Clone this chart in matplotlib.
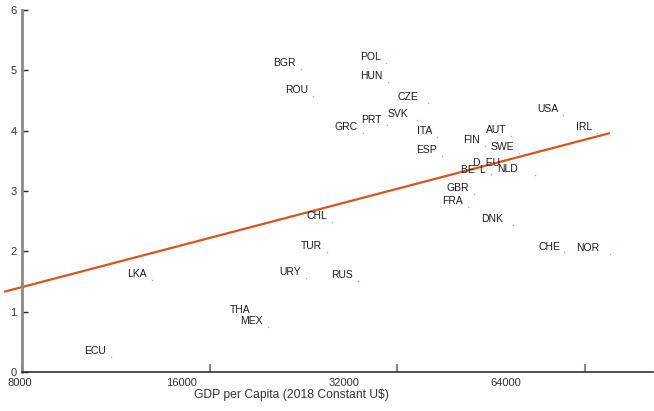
import numpy as np
import matplotlib
matplotlib.use("Agg")
import matplotlib.pyplot as plt

plt.rcParams["font.family"] = ["Liberation Sans", "DejaVu Sans"]

# Country codes, GDP per capita (2018 constant US$) and score
countries = ["BGR", "POL", "HUN", "ROU", "CZE", "SVK", "PRT", "GRC", "ITA", "ESP",
             "USA", "IRL", "AUT", "FIN", "SWE", "GBR", "FRA", "DNK", "CHE", "NOR",
             "LKA", "ECU", "CHL", "TUR", "URY", "RUS", "MEX", "THA",
             "DEU", "BEL", "NLD"]
gdp = [22440, 30700, 30950, 23450, 35880, 34450, 30840, 28220, 37100, 37800,
       59100, 67000, 48800, 44300, 50200, 42540, 41600, 49100, 59300, 70300,
       12940, 11120, 25170, 24700, 22860, 27700, 19860, 18930,
       47700, 45300, 53300]
score = [5.02, 5.12, 4.81, 4.57, 4.46, 4.18, 4.09, 3.96, 3.90, 3.58,
         4.26, 3.96, 3.91, 3.75, 3.63, 2.95, 2.73, 2.44, 1.99, 1.96,
         1.52, 0.25, 2.49, 1.99, 1.56, 1.51, 0.75, 0.93,
         3.36, 3.28, 3.27]

# Label text as printed (the crowded centre labels are split)
label_text = {"DEU": "D\u2002EU", "BEL": "BE\u2002L"}

# Fitted trend (log GDP) end points
fit_gdp = [7490, 70300]
fit_score = [1.33, 3.96]

x_ticks = [8000, 16000, 32000, 64000]
x_tick_labels = ["8000", "16000", "32000", "64000"]
y_ticks = [0, 1, 2, 3, 4, 5, 6]

# label nudges (pixels) for crowded spots
nudge = {"CZE": (-5, 0), "SVK": (-4, 0), "DNK": (-5, 0), "NOR": (-6, 0),
         "PRT": (0, -1), "CHE": (2, -1), "BEL": (0, -2), "NLD": (-12, 0)}

W, H = 654, 411
fig = plt.figure(figsize=(W / 100, H / 100), dpi=100)
ax_left, ax_right, ax_top, ax_bottom = 22, 653, 10, 372
ax = fig.add_axes([ax_left / W, (H - ax_bottom) / H,
                   (ax_right - ax_left) / W, (ax_bottom - ax_top) / H])

px_per_doubling = 187.5
xmin = 8000
xmax = xmin * 2 ** ((ax_right - ax_left) / px_per_doubling)
ax.set_xscale("log", base=2)
ax.set_xlim(xmin, xmax)
ax.set_ylim(0, 6)

ax.plot(fit_gdp, fit_score, color="#d9541e", lw=1.6, clip_on=False,
        solid_capstyle="butt", zorder=2)
ax.scatter(gdp, score, s=1.2, color="#7fb3e0", linewidths=0, zorder=3)

for c, gx, sy in zip(countries, gdp, score):
    dx, dy = nudge.get(c, (0, 0))
    ax.annotate(label_text.get(c, c), xy=(gx, sy), xytext=(-5 + dx, 6 + dy),
                textcoords="offset pixels", ha="right", va="center",
                fontsize=7.5, color="#1a1a1a", zorder=4)

# spines and ticks
for s in ("top", "right"):
    ax.spines[s].set_visible(False)
ax.spines["left"].set_color("#8a8a8a")
ax.spines["left"].set_linewidth(2.0)
ax.spines["bottom"].set_color("#333333")
ax.spines["bottom"].set_linewidth(1.2)

ax.set_yticks(y_ticks)
ax.tick_params(axis="y", direction="in", length=4, width=1, color="#222222",
               labelsize=8, labelcolor="#333333", pad=4)
ax.set_xticks(x_ticks, labels=[""] * len(x_ticks))
ax.xaxis.set_minor_locator(matplotlib.ticker.NullLocator())
ax.tick_params(axis="x", direction="in", length=6, width=1.5, color="#888888")

# x tick labels sit on a slightly compressed scale
shrink = 0.864
span = np.log2(xmax / xmin)
for t, lab in zip(x_ticks, x_tick_labels):
    frac = np.log2(t / xmin) / span
    ax.annotate(lab, xy=(shrink * frac, 0), xycoords="axes fraction",
                xytext=(-2, -11), textcoords="offset pixels",
                ha="center", va="center", fontsize=8, color="#333333")

ax.set_xlabel("GDP per Capita (2018 Constant U$)", fontsize=8.7, color="#333333")
ax.xaxis.set_label_coords((291 - ax_left) / (ax_right - ax_left),
                          -(395 - ax_bottom) / (ax_bottom - ax_top))
ax.xaxis.label.set_va("center")

fig.savefig("out.png", dpi=100)
